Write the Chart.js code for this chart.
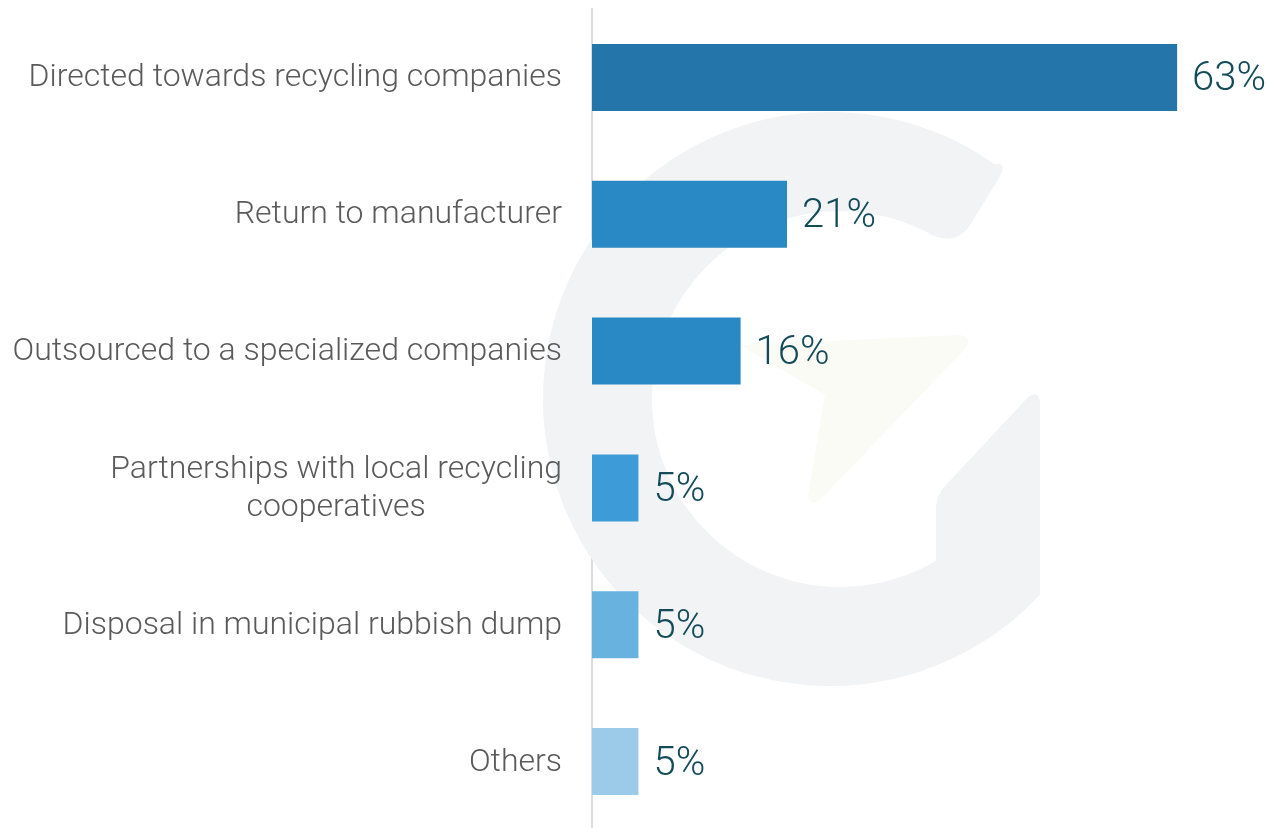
<!DOCTYPE html>
<html>
<head>
<meta charset="utf-8">
<script src="https://cdn.jsdelivr.net/npm/chart.js@4.4.1/dist/chart.umd.min.js"></script>
<style>
  html, body { margin: 0; padding: 0; background: #ffffff; overflow: hidden; }
  #wrap { position: relative; width: 1270px; height: 830px; }
</style>
</head>
<body>
<div id="wrap"><canvas id="chart"></canvas></div>
<script>
// Categories (multi-line entries are arrays of lines)
const categories = [
  'Directed towards recycling companies',
  'Return to manufacturer',
  'Outsourced to a specialized companies',
  ['Partnerships with local recycling', 'cooperatives'],
  'Disposal in municipal rubbish dump',
  'Others'
];
// Share of respondents, percent
const shares = [63, 21, 16, 5, 5, 5];
const barColors = ['#2475aa', '#2889c5', '#2889c5', '#3d9bd8', '#68b2e0', '#9ccbe9'];

const FONT = 'Roboto, "Open Sans", sans-serif';

// Faint "G" emblem behind the bars
const emblem = {
  id: 'emblem',
  beforeDatasetsDraw(chart) {
    const ctx = chart.ctx;
    ctx.save();
    ctx.fillStyle = '#f2f3f5';
    ctx.beginPath();
    // outer edge: upper-right end, round the left, to lower-right
    ctx.arc(830, 399, 287, -0.96, 0.75, true);
    // right-hand vertical bar with diagonal top
    ctx.lineTo(1040, 404);
    ctx.quadraticCurveTo(1040, 390, 1029, 396);
    ctx.lineTo(945, 486);
    ctx.quadraticCurveTo(936, 496, 936, 508);
    ctx.lineTo(936, 560);
    // inner edge back up to the upper-right end
    ctx.arc(840, 399, 188, 1.035, -1.054, false);
    ctx.quadraticCurveTo(958, 246, 972, 222);
    ctx.lineTo(999, 178);
    ctx.quadraticCurveTo(1008, 162, 995, 164);
    ctx.closePath();
    ctx.fill();
    // pale arrow head
    ctx.fillStyle = '#fafbf4';
    ctx.beginPath();
    ctx.moveTo(740, 345);
    ctx.lineTo(960, 335);
    ctx.quadraticCurveTo(975, 338, 962, 352);
    ctx.lineTo(820, 500);
    ctx.quadraticCurveTo(810, 508, 808, 495);
    ctx.lineTo(825, 395);
    ctx.closePath();
    ctx.fill();
    ctx.restore();
  }
};

// Category labels, right-aligned block with centred lines
const categoryLabels = {
  id: 'categoryLabels',
  afterDraw(chart) {
    const ctx = chart.ctx;
    const y = chart.scales.y;
    const rightEdge = 562;
    const lineH = 38;
    ctx.save();
    ctx.font = '300 32px ' + FONT;
    ctx.fillStyle = '#5a5a5a';
    ctx.textBaseline = 'middle';
    ctx.textAlign = 'center';
    categories.forEach((c, i) => {
      const lines = Array.isArray(c) ? c : [c];
      const blockW = Math.max(...lines.map(l => ctx.measureText(l).width));
      const center = rightEdge - blockW / 2;
      const yc = y.getPixelForValue(i) + 1;
      const y0 = yc - (lines.length - 1) * lineH / 2;
      lines.forEach((l, k) => ctx.fillText(l, center, y0 + k * lineH));
    });
    ctx.restore();
  }
};

// Value labels at the end of each bar
const valueLabels = {
  id: 'valueLabels',
  afterDatasetsDraw(chart) {
    const ctx = chart.ctx;
    const meta = chart.getDatasetMeta(0);
    ctx.save();
    ctx.font = '300 40px ' + FONT;
    ctx.fillStyle = '#134b59';
    ctx.textAlign = 'left';
    ctx.textBaseline = 'middle';
    meta.data.forEach((bar, i) => {
      ctx.fillText(shares[i] + '%', bar.x + 15, bar.y + 3);
    });
    ctx.restore();
  }
};

new Chart(document.getElementById('chart'), {
  type: 'bar',
  data: {
    labels: categories,
    datasets: [{
      data: shares,
      backgroundColor: barColors,
      borderWidth: 0,
      barPercentage: 0.49,
      categoryPercentage: 1.0
    }]
  },
  options: {
    indexAxis: 'y',
    responsive: true,
    maintainAspectRatio: false,
    animation: false,
    layout: { padding: { top: 9, right: 0, bottom: 0, left: 0 } },
    plugins: {
      legend: { display: false },
      tooltip: { enabled: false }
    },
    scales: {
      x: {
        min: 0,
        max: 73,
        display: false
      },
      y: {
        display: true,
        ticks: { display: false },
        grid: { display: false, drawTicks: false },
        border: { display: true, color: '#dcdcdc', width: 2 },
        afterFit(scale) { scale.width = 592; }
      }
    }
  },
  plugins: [emblem, categoryLabels, valueLabels]
});
</script>
</body>
</html>
